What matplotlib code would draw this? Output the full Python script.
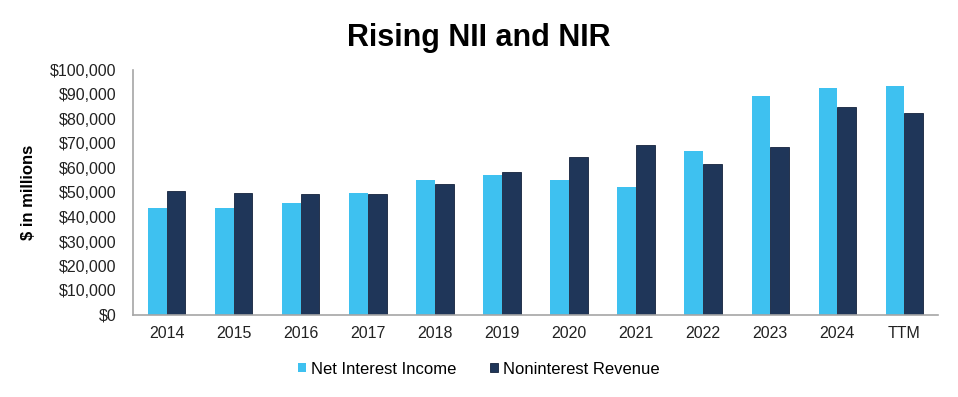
import matplotlib.pyplot as plt
import numpy as np

plt.rcParams['font.family'] = ['Liberation Sans', 'DejaVu Sans']

# Data (values in $ millions)
categories = ['2014', '2015', '2016', '2017', '2018', '2019', '2020', '2021',
              '2022', '2023', '2024', 'TTM']
net_interest_income = [43800, 43800, 45800, 49900, 55100, 57000, 55100, 52100,
                       66900, 89400, 92800, 93600]
noninterest_revenue = [50700, 49900, 49300, 49300, 53300, 58200, 64500, 69300,
                       61800, 68700, 85000, 82300]
y_ticks = np.arange(0, 100001, 10000)

x = np.arange(len(categories))
width = 0.28

fig = plt.figure(figsize=(9.58, 3.97), dpi=100)
ax = fig.add_axes([133 / 958, 82 / 397, 805 / 958, 245 / 397])

ax.bar(x - width / 2, net_interest_income, width, color='#3EC1F0',
       label='Net Interest Income')
ax.bar(x + width / 2, noninterest_revenue, width, color='#1F3659',
       edgecolor='#14223d', linewidth=0.6, label='Noninterest Revenue')

ax.set_xlim(-0.5, len(categories) - 0.5)
ax.set_ylim(0, 100000)
ax.set_yticks(y_ticks)
ax.set_yticklabels([f'${v:,.0f}' for v in y_ticks])
ax.set_xticks(x)
ax.set_xticklabels(categories)
ax.tick_params(axis='both', length=0, labelsize=11.5, colors='#222222')
ax.tick_params(axis='x', pad=8)
ax.tick_params(axis='y', pad=12)

for side in ['top', 'right']:
    ax.spines[side].set_visible(False)
for side in ['left', 'bottom']:
    ax.spines[side].set_color('#a6a6a6')
    ax.spines[side].set_linewidth(1.2)

ax.set_ylabel('$ in millions', fontsize=12, fontweight='bold', labelpad=10)

fig.text(0.5, 0.905, 'Rising NII and NIR', ha='center', va='center',
         fontsize=22, fontweight='bold')

fig.legend(loc='center', bbox_to_anchor=(0.5, 1 - 369 / 397), ncol=2,
           frameon=False, fontsize=12, handlelength=0.5, handleheight=0.5,
           handletextpad=0.3, columnspacing=2.0)

plt.savefig('out.png', dpi=100)
